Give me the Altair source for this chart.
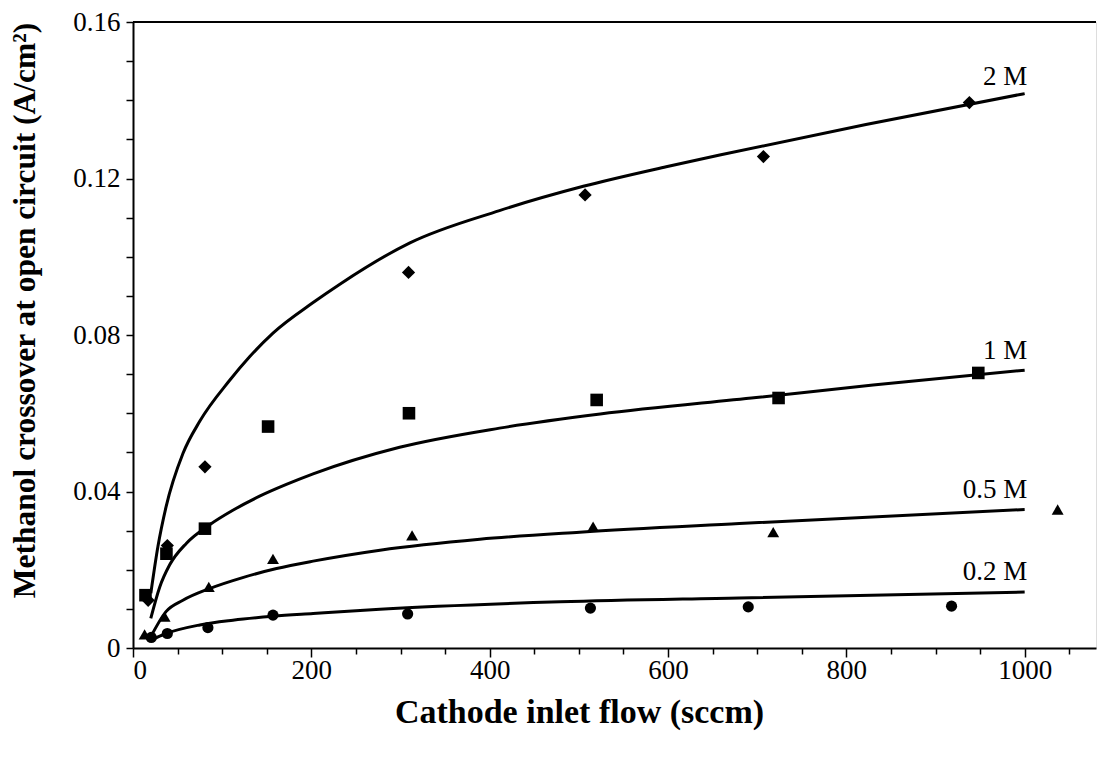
import altair as alt
import pandas as pd

# ---- measured data points ----
series_names = ["2 M", "1 M", "0.5 M", "0.2 M"]

pts_2M_x = [17, 38.5, 80.7, 309, 507, 707, 938]
pts_2M_y = [0.0122, 0.0262, 0.0463, 0.0960, 0.1158, 0.1256, 0.1394]

pts_1M_x = [14, 37.5, 80.7, 151.5, 309.5, 520, 724, 948]
pts_1M_y = [0.0135, 0.0241, 0.0305, 0.0566, 0.0600, 0.0634, 0.0639, 0.0703]

pts_05M_x = [13, 35.5, 85, 157, 313, 516, 718, 1037]
pts_05M_y = [0.0035, 0.0080, 0.0156, 0.0228, 0.0288, 0.0310, 0.0296, 0.0354]

pts_02M_x = [20.5, 38.5, 84, 157, 308, 513, 690, 918]
pts_02M_y = [0.0027, 0.0037, 0.0052, 0.0084, 0.0087, 0.0102, 0.0105, 0.0107]

# ---- model curves ----
cur_2M_x = [20, 28, 37, 56, 75, 108, 131, 157, 202, 232, 310, 411, 505, 598, 658, 822, 1000]
cur_2M_y = [0.0140, 0.0260, 0.0360, 0.0497, 0.0580, 0.0683, 0.0745, 0.0805, 0.0883, 0.0930,
            0.1035, 0.1118, 0.1180, 0.1230, 0.1260, 0.1338, 0.1417]

cur_1M_x = [20, 30, 41, 60, 86, 112, 142, 172, 202, 299, 411, 524, 699, 830, 1000]
cur_1M_y = [0.0076, 0.0156, 0.0212, 0.0268, 0.0315, 0.0352, 0.0388, 0.0418, 0.0445, 0.0513,
            0.0562, 0.0598, 0.0640, 0.0672, 0.0710]

cur_05M_x = [20, 37, 56, 86, 123, 161, 202, 277, 389, 501, 680, 1000]
cur_05M_y = [0.0029, 0.0093, 0.0122, 0.0152, 0.0180, 0.0203, 0.0222, 0.0250, 0.0278, 0.0296,
             0.0318, 0.0354]

cur_02M_x = [20, 37, 75, 112, 157, 202, 277, 479, 680, 1000]
cur_02M_y = [0.0020, 0.0037, 0.0059, 0.0071, 0.0081, 0.0088, 0.0099, 0.0118, 0.0128, 0.0143]

label_x = [1003, 1003, 1003, 1003]
label_y = [0.1460, 0.0759, 0.0403, 0.0194]

shapes = ["diamond", "square", "triangle-up", "circle"]
sizes = [175, 125, 160, 130]

pts = [(pts_2M_x, pts_2M_y), (pts_1M_x, pts_1M_y), (pts_05M_x, pts_05M_y), (pts_02M_x, pts_02M_y)]
curs = [(cur_2M_x, cur_2M_y), (cur_1M_x, cur_1M_y), (cur_05M_x, cur_05M_y), (cur_02M_x, cur_02M_y)]

pts_df = pd.concat([pd.DataFrame({"series": s, "x": xs, "y": ys}) for s, (xs, ys) in zip(series_names, pts)])
cur_df = pd.concat([pd.DataFrame({"series": s, "x": xs, "y": ys}) for s, (xs, ys) in zip(series_names, curs)])
lab_df = pd.DataFrame({"series": series_names, "x": label_x, "y": label_y})

FONT = "Liberation Serif"
W, H = 963, 626

x_axis = alt.Axis(
    values=list(range(0, 1051, 50)),
    labelExpr="datum.value % 200 === 0 ? format(datum.value, 'd') : ''",
    tickSize={"condition": {"test": "datum.value % 200 === 0", "value": 9}, "value": 6},
    grid=False, domainColor="black", domainWidth=2, tickColor="black", tickWidth=1.5,
    labelFont=FONT, labelFontSize=27, labelColor="black", labelPadding=0,
    title="Cathode inlet flow (sccm)", titleFont=FONT, titleFontSize=34,
    titleFontWeight="bold", titleColor="black",
    titleX=446, titleY=64, titleBaseline="middle", titleAlign="center",
)
y_axis = alt.Axis(
    values=[i / 100 for i in range(0, 17)],
    labelExpr="round(datum.value*100) % 4 === 0 ? (datum.value === 0 ? '0' : format(datum.value, '.2f')) : ''",
    tickSize=7, grid=False, domainColor="black", domainWidth=2, tickColor="black", tickWidth=1.5,
    labelFont=FONT, labelFontSize=27, labelColor="black", labelPadding=6,
    title="Methanol crossover at open circuit (A/cm²)", titleFont=FONT, titleFontSize=31.5,
    titleFontWeight="bold", titleColor="black",
    titleX=-108, titleY=288, titleBaseline="middle", titleAlign="center", titleAngle=270,
)

X = alt.X("x:Q", scale=alt.Scale(domain=[0, 1080], nice=False), axis=x_axis)
Y = alt.Y("y:Q", scale=alt.Scale(domain=[0, 0.16], nice=False), axis=y_axis)

lines = alt.Chart(cur_df).mark_line(color="black", strokeWidth=3, interpolate="monotone").encode(
    x=X, y=Y, detail="series:N"
)

points = alt.Chart(pts_df).mark_point(filled=True, opacity=1, color="black").encode(
    x=X, y=Y,
    shape=alt.Shape("series:N", scale=alt.Scale(domain=series_names, range=shapes), legend=None),
    size=alt.Size("series:N", scale=alt.Scale(domain=series_names, range=sizes), legend=None),
)

labels = alt.Chart(lab_df).mark_text(
    align="right", baseline="middle", font=FONT, fontSize=27, color="black"
).encode(x=X, y=Y, text="series:N")

top_border = alt.Chart(lab_df).mark_rule(color="black", strokeWidth=1.5).encode(
    x=alt.value(0), x2=alt.value(W), y=alt.value(0)
)

chart = alt.layer(lines, points, labels, top_border).properties(
    width=W, height=H,
    autosize=alt.AutoSizeParams(type="none"),
    padding={"left": 125, "top": 14, "right": 5, "bottom": 107},
).configure_view(stroke=None).configure(background="white")

chart.save("out.html", embed_options={"renderer": "svg", "actions": False})
